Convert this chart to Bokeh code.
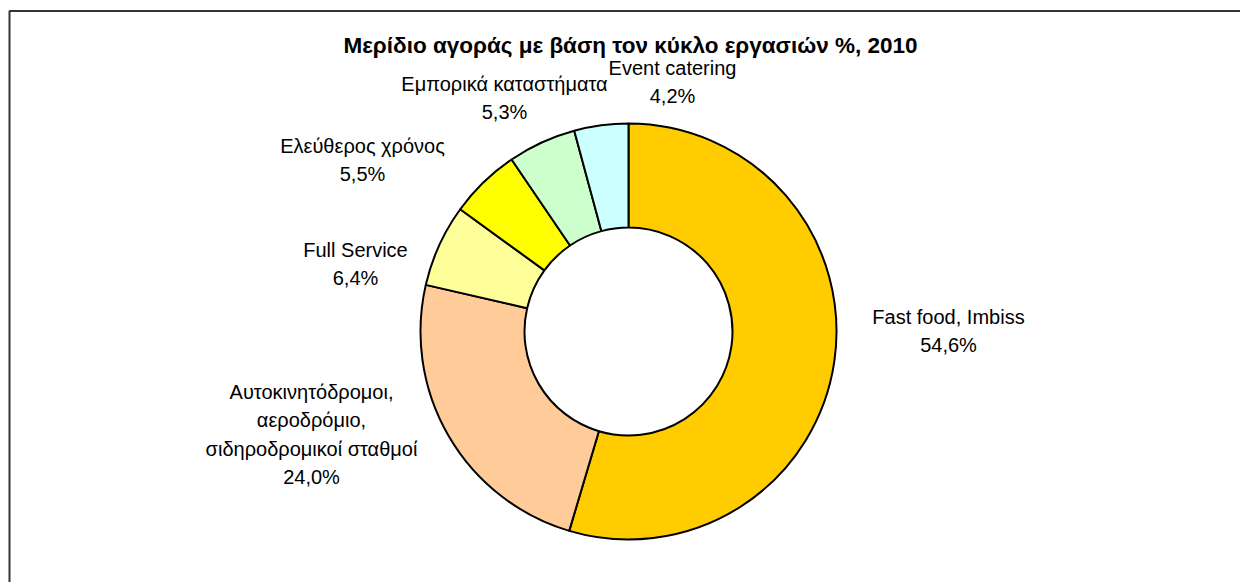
import numpy as np
from bokeh.plotting import figure
from bokeh.models import Range1d, BoxAnnotation, ColumnDataSource
from bokeh.core.properties import value
from bokeh.embed import file_html
from bokeh.resources import INLINE

# ---- data ----
categories = [
    "Fast food, Imbiss",
    "Αυτοκινητόδρομοι,\nαεροδρόμιο,\nσιδηροδρομικοί σταθμοί",
    "Full Service",
    "Ελεύθερος χρόνος",
    "Εμπορικά καταστήματα",
    "Event catering",
]
shares = [54.6, 24.0, 6.4, 5.5, 5.3, 4.2]
colors = ["#FFCC00", "#FFCC99", "#FFFF99", "#FFFF00", "#CCFFCC", "#CCFFFF"]
title = "Μερίδιο αγοράς με βάση τον κύκλο εργασιών %, 2010"

# ---- layout (page pixel coordinates) ----
W, H = 1240, 582
def dx(px):
    return px
def dy(py):
    return H - py

CX, CY = 628, 331
R_OUT, R_IN = 208, 104
LINE_STEP = 28.5
# label anchors: (center x, first-line baseline y)
label_pos = [(948, 316), (311, 391), (355, 249), (362, 145), (504, 83), (672, 67)]

p = figure(width=W, height=H, output_backend="svg", toolbar_location=None,
           x_range=Range1d(0, W), y_range=Range1d(0, H),
           min_border=0, min_border_left=0, min_border_right=0,
           min_border_top=0, min_border_bottom=0)
p.axis.visible = False
p.grid.visible = False
p.outline_line_color = None
p.background_fill_color = "white"
p.border_fill_color = "white"

total = sum(shares)
fr = np.array(shares) / total
cum = np.concatenate([[0], np.cumsum(fr)])
start = np.pi / 2 - 2 * np.pi * cum[:-1]
end = np.pi / 2 - 2 * np.pi * cum[1:]

src = ColumnDataSource(dict(x=[dx(CX)] * len(shares), y=[dy(CY)] * len(shares),
                            start=start, end=end, color=colors))
p.annular_wedge(x="x", y="y", inner_radius=R_IN, outer_radius=R_OUT,
                start_angle="start", end_angle="end", direction="clock",
                fill_color="color", line_color="black", line_width=2, source=src)

# labels
tx, ty, tt = [], [], []
for name, v, (lx, ly) in zip(categories, shares, label_pos):
    lines = name.split("\n") + [f"{v:.1f}".replace(".", ",") + "%"]
    for i, ln in enumerate(lines):
        tx.append(dx(lx))
        ty.append(dy(ly + i * LINE_STEP))
        tt.append(ln)
p.text(x=tx, y=ty, text=tt, text_align="center", text_baseline="alphabetic",
       text_font=value("Liberation Sans"), text_font_size="20px", text_color="black")

p.text(x=[dx(630)], y=[dy(45)], text=[title], text_align="center",
       text_baseline="alphabetic", text_font=value("Liberation Sans"),
       text_font_size="22.5px", text_font_style="bold", text_color="black")

# chart-area border (right/bottom edges fall outside the view)
p.add_layout(BoxAnnotation(left=9, right=5000, top=dy(10.5), bottom=-5000,
                           fill_alpha=0, line_color="#333333", line_alpha=1.0,
                           line_width=2))

open("out.html", "w").write(file_html(p, INLINE))
